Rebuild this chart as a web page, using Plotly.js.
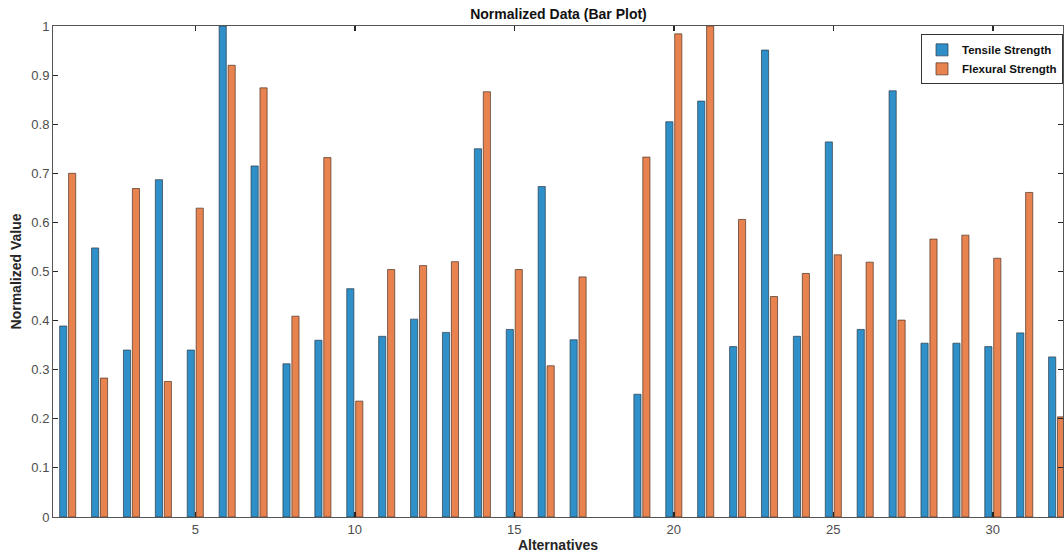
<!DOCTYPE html>
<html>
<head>
<meta charset="utf-8">
<script src="https://cdn.plot.ly/plotly-3.0.1.min.js"></script>
<style>html,body{margin:0;padding:0;background:#fff;}#chart{width:1064px;height:560px;}</style>
</head>
<body>
<div id="chart"></div>
<script>
var alternatives = [1,2,3,4,5,6,7,8,9,10,11,12,13,14,15,16,17,18,19,20,21,22,23,24,25,26,27,28,29,30,31,32];
var tensile = [0.389,0.548,0.340,0.687,0.340,1.000,0.715,0.312,0.360,0.465,0.368,0.403,0.376,0.750,0.382,0.673,0.361,0,0.250,0.805,0.847,0.347,0.951,0.368,0.764,0.382,0.868,0.354,0.354,0.347,0.375,0.326];
var flexural = [0.700,0.283,0.669,0.276,0.629,0.920,0.874,0.409,0.732,0.236,0.504,0.512,0.520,0.866,0.504,0.308,0.489,0,0.733,0.984,1.000,0.606,0.449,0.496,0.534,0.519,0.401,0.566,0.574,0.527,0.661,0.204];
var xTicks = [5,10,15,20,25,30];
var yTicks = [0,0.1,0.2,0.3,0.4,0.5,0.6,0.7,0.8,0.9,1];
var yTickText = ['0','0.1','0.2','0.3','0.4','0.5','0.6','0.7','0.8','0.9','1'];

var font = 'Liberation Sans, Arial, sans-serif';
function edgeWidths(vals){ return vals.map(function(v){ return v > 0 ? 0.7 : 0; }); }
var data = [
  {type:'bar', name:'<b>Tensile Strength</b>', x:alternatives, y:tensile,
   marker:{color:'#2E8FC9', line:{color:'#2b3a45', width:edgeWidths(tensile)}}},
  {type:'bar', name:'<b>Flexural Strength</b>', x:alternatives, y:flexural,
   marker:{color:'#E8834F', line:{color:'#4a3226', width:edgeWidths(flexural)}}}
];
var layout = {
  width:1064, height:560,
  margin:{l:53, r:1, t:26, b:43},
  paper_bgcolor:'#fff', plot_bgcolor:'#fff',
  barmode:'group', bargap:0.44, bargroupgap:0.2,
  showlegend:true,
  title:{text:'<b>Normalized Data (Bar Plot)</b>', font:{family:font, size:14, color:'#111'}, x:0.5249, xanchor:'center', y:0.975, yanchor:'middle'},
  xaxis:{range:[0.54,32.2], tickvals:xTicks, ticktext:xTicks.map(String), ticks:'inside', ticklen:5, tickwidth:1.5, tickcolor:'#262626',
         showline:true, linecolor:'#555', linewidth:1, mirror:'allticks', showgrid:false, zeroline:false,
         tickfont:{family:font, size:13, color:'#4d4d4d'},
         title:{text:'<b>Alternatives</b>', font:{family:font, size:14, color:'#262626'}, standoff:4}},
  yaxis:{range:[0,1], tickvals:yTicks, ticktext:yTickText, ticks:'inside', ticklen:5, tickwidth:1, tickcolor:'#262626',
         showline:true, linecolor:'#555', linewidth:1, mirror:'allticks', showgrid:false, zeroline:false,
         tickfont:{family:font, size:13, color:'#4d4d4d'},
         title:{text:'<b>Normalized Value</b>', font:{family:font, size:14, color:'#262626'}, standoff:6}},
  legend:{x:1, xanchor:'right', y:0.983, yanchor:'top', bgcolor:'#fff', bordercolor:'#333', borderwidth:1,
          font:{family:font, size:11.5, color:'#111'}, tracegroupgap:0, itemwidth:30}
};
Plotly.newPlot('chart', data, layout, {displayModeBar:false, staticPlot:true});
</script>
</body>
</html>
